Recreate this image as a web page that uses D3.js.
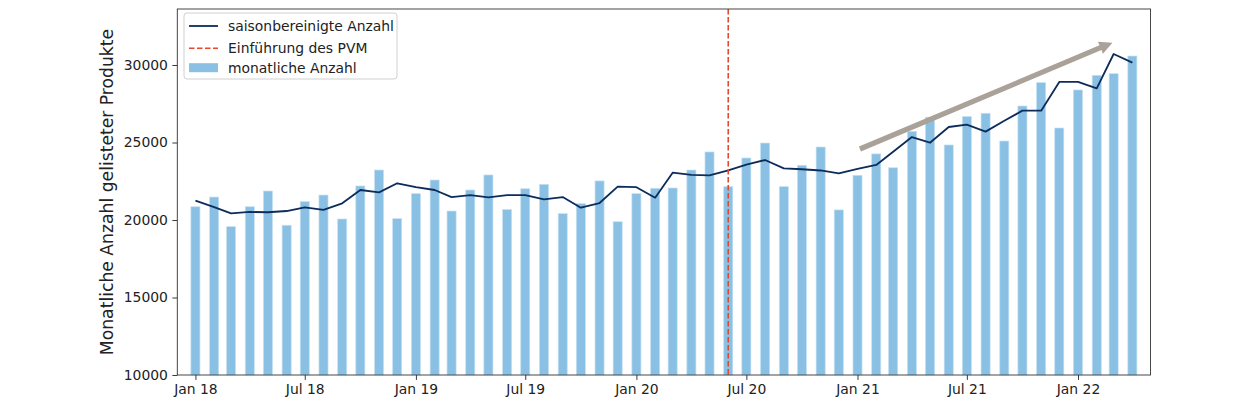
<!DOCTYPE html>
<html>
<head>
<meta charset="utf-8">
<script src="https://cdn.jsdelivr.net/npm/d3@7"></script>
<style>
  body { margin: 0; background: #fff; }
  svg { font-family: "DejaVu Sans", sans-serif; }
</style>
</head>
<body>
<div id="chart"></div>
<script>
// months shown as bars, first day of each month
const months = [
  "2018-01","2018-02","2018-03","2018-04","2018-05","2018-06","2018-07","2018-08","2018-09","2018-10","2018-11","2018-12",
  "2019-01","2019-02","2019-03","2019-04","2019-05","2019-06","2019-07","2019-08","2019-09","2019-10","2019-11","2019-12",
  "2020-01","2020-02","2020-03","2020-04","2020-05","2020-06","2020-07","2020-08","2020-09","2020-10","2020-11","2020-12",
  "2021-01","2021-02","2021-03","2021-04","2021-05","2021-06","2021-07","2021-08","2021-09","2021-10","2021-11","2021-12",
  "2022-01","2022-02","2022-03","2022-04"
]
const monthly = [
  20855, 21480, 19570, 20855, 21870, 19660, 21185, 21610, 20065, 22195, 23225, 20085,
  21700, 22580, 20580, 21935, 22905, 20670, 22015, 22300, 20410, 21055, 22520, 19890,
  21700, 22045, 22065, 23225, 24390, 22150, 24000, 24965, 22150, 23530, 24710, 20650,
  22885, 24265, 23370, 25720, 26630, 24840, 26670, 26885, 25095, 27355, 28860, 25935,
  28390, 29335, 29440, 30580
]
const adjusted = [
  21245, 20835, 20430, 20520, 20500, 20580, 20815, 20650, 21075, 21935, 21785, 22370,
  22115, 21935, 21480, 21610, 21465, 21610, 21610, 21330, 21480, 20795, 21095, 22150,
  22115, 21440, 23055, 22905, 22885, 23205, 23570, 23870, 23330, 23275, 23195, 23015,
  23295, 23550, 24405, 25350, 24985, 26000, 26150, 25700, 26405, 27055, 27055, 28905,
  28905, 28495, 30710, 30150
]
const pvmDate = "2020-06-01"
const tickDates = ["2018-01-01","2018-07-01","2019-01-01","2019-07-01","2020-01-01","2020-07-01","2021-01-01","2021-07-01","2022-01-01"]
const tickLabels = ["Jan 18","Jul 18","Jan 19","Jul 19","Jan 20","Jul 20","Jan 21","Jul 21","Jan 22"]
const yTicks = [10000, 15000, 20000, 25000, 30000]
const trendFrom = ["2021-01-05", 24580]
const trendTo = ["2022-02-27", 31440]
const legendLabels = ["saisonbereinigte Anzahl", "Einführung des PVM", "monatliche Anzahl"]

const w = 1250
const h = 407
const m = {left: 177.3, right: 99.5, top: 9, bottom: 32}
const parse = d3.utcParse("%Y-%m-%d")
const parseMonth = d3.utcParse("%Y-%m")

const barColor = "#89c0e3"
const lineColor = "#0c2c5c"
const pvmColor = "#e8472b"
const arrowColor = "#aaa298"
const fontPx = 13.9

const svg = d3.select("#chart")
  .append("svg")
  .attr("width", w)
  .attr("height", h)

const xScale = d3.scaleUtc()
  .domain([parse("2017-12-02"), parse("2022-05-01")])
  .range([m.left, w - m.right])

const yScale = d3.scaleLinear()
  .domain([10000, 33613])
  .range([h - m.bottom, m.top])

const dates = months.map(parseMonth)
const dayPx = xScale(parse("2018-01-16")) - xScale(parse("2018-01-01"))

// bars
svg.append("g")
  .selectAll("rect")
  .data(monthly)
  .enter()
  .append("rect")
  .attr("x", (d, i) => xScale(dates[i]) - dayPx / 2)
  .attr("y", d => yScale(d))
  .attr("width", dayPx)
  .attr("height", d => yScale(10000) - yScale(d))
  .attr("fill", barColor)
  .attr("stroke", "#c4e1f3")
  .attr("stroke-width", 0.7)

// seasonally adjusted line
const line = d3.line()
  .x((d, i) => xScale(dates[i]))
  .y(d => yScale(d))

svg.append("path")
  .datum(adjusted)
  .attr("d", line)
  .attr("fill", "none")
  .attr("stroke", lineColor)
  .attr("stroke-width", 1.8)
  .attr("stroke-linejoin", "round")

// PVM introduction
svg.append("line")
  .attr("x1", xScale(parse(pvmDate)))
  .attr("x2", xScale(parse(pvmDate)))
  .attr("y1", m.top)
  .attr("y2", h - m.bottom)
  .attr("stroke", pvmColor)
  .attr("stroke-width", 1.6)
  .attr("stroke-dasharray", "5.5,2.5")

// trend arrow
const ax1 = xScale(parse(trendFrom[0])), ay1 = yScale(trendFrom[1])
const ax2 = xScale(parse(trendTo[0])), ay2 = yScale(trendTo[1])
const ang = Math.atan2(ay2 - ay1, ax2 - ax1) * 180 / Math.PI
const len = Math.hypot(ax2 - ax1, ay2 - ay1)
const headLen = 13, headW = 6.5, shaftW = 2.6
svg.append("path")
  .attr("transform", `translate(${ax1},${ay1}) rotate(${ang})`)
  .attr("d", `M0,${-shaftW} L${len - headLen},${-shaftW} L${len - headLen},${-headW} L${len},0 L${len - headLen},${headW} L${len - headLen},${shaftW} L0,${shaftW} Z`)
  .attr("fill", arrowColor)

// axes
const xAxis = d3.axisBottom(xScale)
  .tickValues(tickDates.map(parse))
  .tickFormat((d, i) => tickLabels[i])
  .tickSize(4.9)
  .tickPadding(4.2)
const yAxis = d3.axisLeft(yScale)
  .tickValues(yTicks)
  .tickFormat(d3.format("d"))
  .tickSize(4.9)
  .tickPadding(4.5)

const gx = svg.append("g")
  .attr("transform", `translate(0,${h - m.bottom})`)
  .call(xAxis)
const gy = svg.append("g")
  .attr("transform", `translate(${m.left},0)`)
  .call(yAxis)

for (const g of [gx, gy]) {
  g.select(".domain").remove()
  g.selectAll("text").attr("font-size", fontPx).attr("fill", "#222").attr("font-family", "DejaVu Sans")
  g.selectAll("line").attr("stroke", "#222").attr("stroke-width", 0.9)
}

// frame
svg.append("rect")
  .attr("x", m.left)
  .attr("y", m.top)
  .attr("width", w - m.left - m.right)
  .attr("height", h - m.top - m.bottom)
  .attr("fill", "none")
  .attr("stroke", "#333")
  .attr("stroke-width", 0.9)

svg.append("text")
  .attr("transform", "rotate(-90)")
  .attr("x", -(m.top + (h - m.top - m.bottom) / 2))
  .attr("y", 113)
  .attr("text-anchor", "middle")
  .attr("font-size", 17.2)
  .attr("fill", "#222")
  .text("Monatliche Anzahl gelisteter Produkte")

// legend
const leg = svg.append("g").attr("transform", "translate(184,13)")
leg.append("rect")
  .attr("width", 213)
  .attr("height", 66)
  .attr("rx", 3)
  .attr("fill", "#fff")
  .attr("fill-opacity", 0.85)
  .attr("stroke", "#d0d0d0")

const rowY = [13, 35.3, 54.7]
leg.append("line")
  .attr("x1", 5).attr("x2", 34).attr("y1", rowY[0]).attr("y2", rowY[0])
  .attr("stroke", lineColor).attr("stroke-width", 1.8)
leg.append("line")
  .attr("x1", 5).attr("x2", 34).attr("y1", rowY[1]).attr("y2", rowY[1])
  .attr("stroke", pvmColor).attr("stroke-width", 1.6).attr("stroke-dasharray", "5.5,2.5")
leg.append("rect")
  .attr("x", 5).attr("y", rowY[2] - 4.5).attr("width", 29).attr("height", 9)
  .attr("fill", barColor)

leg.selectAll("text.lbl")
  .data(legendLabels)
  .enter()
  .append("text")
  .attr("class", "lbl")
  .attr("x", 44)
  .attr("y", (d, i) => rowY[i] + 5)
  .attr("font-size", fontPx)
  .attr("fill", "#222")
  .text(d => d)
</script>
</body>
</html>
